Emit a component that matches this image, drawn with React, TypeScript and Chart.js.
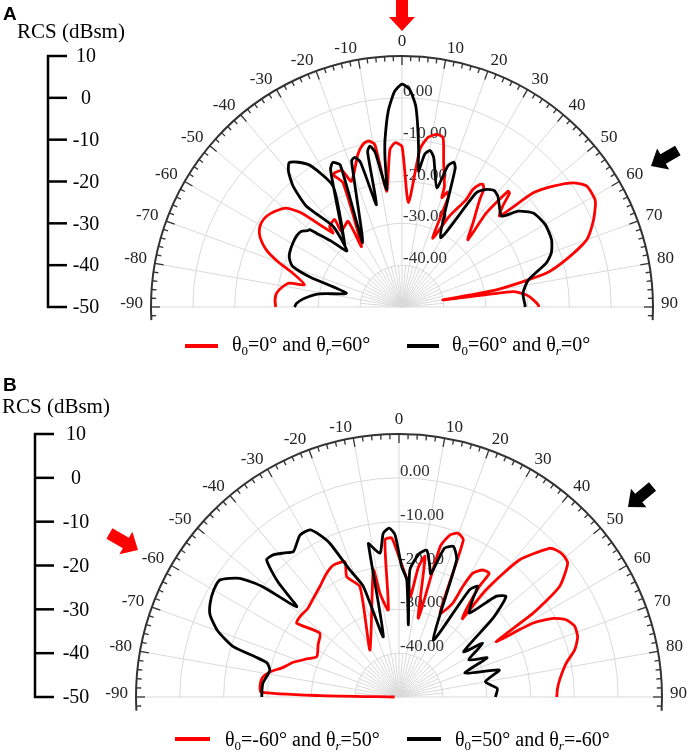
import React, { useEffect, useRef } from "react";
import { Chart, registerables } from "chart.js";
Chart.register(...registerables);

type P = [number, number];

const DB_MIN = -50;
const DB_MAX = 10;
const ringLevels = [0, -10, -20, -30, -40];
const ringLabels = ["0.00", "-10.00", "-20.00", "-30.00", "-40.00"];
const angleTicks = [-90, -80, -70, -60, -50, -40, -30, -20, -10, 0, 10, 20, 30, 40, 50, 60, 70, 80, 90];
const scaleTicks = [10, 0, -10, -20, -30, -40, -50];
const axisTitle = "RCS (dBsm)";

// Panel A: θ0=0°, θr=60° (red) — [angle°, dBsm]
const redA: P[] = [
  [-90, -19.8], [-87, -19.6], [-83.8, -19.8], [-80.5, -21], [-78, -22.5], [-77.2, -26.1], [-72.8, -22.7],
  [-70, -18.5], [-67.2, -14.8], [-64, -12.3], [-61.5, -11.2], [-59, -10.8], [-56.3, -11], [-53, -12],
  [-49.5, -13.6], [-47, -17], [-43, -25.8], [-41.9, -24.1], [-37.6, -23.6], [-38.7, -26.8], [-32.2, -25.8],
  [-33.8, -32.6], [-25.4, -17.1], [-27.5, -14.3], [-23.8, -14.3], [-21.9, -17.6], [-16.1, -12], [-13.5, -10],
  [-11.5, -9.5], [-9.5, -10.6], [-7.6, -22.1], [-4.4, -12.3], [-2.4, -10.7], [0, -11.6], [3.5, -25], [6.5, -12],
  [8.7, -9], [11.4, -7.9], [13.6, -8.3], [16, -13.9], [19.4, -19.5], [20, -22.2], [21.5, -20.5], [22.8, -21.5],
  [24, -32], [27.6, -25.5], [30.9, -20], [31.1, -17.2], [32.5, -15.2], [33.5, -14.9], [34.8, -15.8], [35.9, -18.3],
  [40, -23.5], [44.4, -27.5], [41.9, -19.8], [42.5, -12.5], [43.4, -12.6], [45, -16], [47, -18.1], [49, -8.4],
  [51.4, -3.7], [54.1, 0.6], [56.8, 2.8], [60.9, 2.8], [62.5, 2.1], [66, 0], [70, -3], [73.5, -8.5],
  [76.8, -14.5], [79.7, -27.1], [80.2, -40.1], [82.1, -23.2], [84.5, -20.1], [87, -18.5], [89.2, -17.4],
  [90, -17.3],
];
// Panel A: θ0=60°, θr=0° (black)
const blackA: P[] = [
  [-90, -24.3], [-88, -24.8], [-85, -26.5], [-81, -30], [-76, -36.3], [-72, -27], [-69.7, -22.2], [-67, -20.8],
  [-64.4, -20.2], [-60, -19.8], [-56, -19.6], [-53, -19.9], [-51, -21], [-50, -21.2], [-49.2, -23], [-47, -27],
  [-44.5, -31.2], [-40.5, -24.6], [-43.5, -16.8], [-42, -11.1], [-40, -7.8], [-38, -6.2], [-35.5, -7.5],
  [-32.8, -9.9], [-29.7, -16.8], [-42.6, -29.8], [-27.5, -13], [-25.6, -11.7], [-23.5, -13], [-31.4, -32],
  [-19, -13], [-17.5, -12.5], [-16, -14], [-14, -24.8], [-12.5, -12], [-11.3, -10.8], [-9.8, -12.5],
  [-7.5, -21.7], [-6.5, -14], [-5.8, -9.8], [-4, -3], [-2, 1.5], [0, 3.3], [2, 2], [3.8, -1.5], [4.8, -5.8],
  [6, -12], [6.9, -17.3], [8.5, -13], [10.2, -12], [12, -13.5], [16.3, -20.3], [18, -14.5], [19.7, -13.2],
  [21, -14.5], [29, -31], [33, -17.5], [35.7, -15.4], [38.2, -14.5], [40.9, -15], [44, -16.5], [47.6, -17.8],
  [50.5, -14], [54.4, -11.4], [60, -10.5], [65.8, -10.8], [70, -12], [73, -13.9], [77.9, -19.1], [83.5, -20.9],
  [89, -20.6], [90, -20.6],
];
// Panel B: θ0=-60°, θr=50° (red)
const redB: P[] = [
  [-90, -49], [-89, -32], [-88, -18.5], [-85, -18.2], [-82, -18.5], [-79, -20], [-76, -22.5], [-72, -24.5],
  [-68, -27], [-63.9, -29.1], [-57, -28], [-51.1, -26.8], [-54.2, -21.2], [-50.9, -20.9], [-46, -21],
  [-40, -20], [-35.6, -19], [-31, -17.5], [-26.5, -16.4], [-21.8, -16.8], [-23.5, -20.1], [-19.5, -23.3],
  [-31.7, -37.4], [-11.4, -20.4], [-10.4, -26], [-7, -30], [-5.1, -14], [-2.6, -13.7], [0.4, -18.7], [4.7, -24],
  [6.5, -27], [8.5, -20], [10.5, -17.4], [13.8, -31.5], [15.3, -14.5], [17.5, -11.2], [19.9, -10.3],
  [22.3, -11.3], [26.1, -28.7], [29.8, -25.4], [30, -20.9], [30.8, -17.1], [33.4, -15.3], [36.1, -15.1],
  [36, -18.9], [37.6, -25], [39, -27], [39.1, -18.5], [41.3, -8.4], [45.3, -1.8], [46.9, -0.9], [49, -0.5],
  [51.6, -0.9], [55.5, -5.6], [58, -14], [60.3, -24.5], [61.1, -15.2], [63, -10.5], [65.2, -8], [68, -6.8],
  [71.4, -7], [75, -8.5], [78.6, -11.1], [83.4, -13], [87, -13.8], [90, -14],
];
// Panel B: θ0=50°, θr=-60° (black)
const blackB: P[] = [
  [-90, -18.7], [-87, -18.7], [-84.1, -18.8], [-80.5, -19.6], [-78.2, -19.9], [-75.5, -18.9], [-74.4, -16],
  [-73.1, -10.5], [-70, -6], [-66.5, -3], [-63.6, -1.9], [-60, -1.2], [-56.8, -1.2], [-53.3, -4.7], [-51, -10],
  [-48.6, -18.9], [-46.5, -12], [-44, -6.5], [-41.5, -6.7], [-38.5, -8], [-36, -9], [-33.5, -7.8], [-31.4, -6.7],
  [-28, -6.8], [-26, -8.9], [-24.2, -11.6], [-21.1, -19], [-17.9, -23.5], [-14.6, -35.8], [-11.3, -14.3],
  [-10.5, -14.9], [-7.5, -16.9], [-5.5, -12.5], [-3.3, -11.4], [-1.4, -13], [1.2, -20.3], [3.8, -23.2],
  [7.4, -33.4], [4.9, -20.9], [8, -17], [10.7, -15.9], [13, -19], [14.5, -21], [17, -14.5], [19.9, -13.5],
  [22.8, -16.1], [31, -34.8], [33.3, -20.8], [35.4, -19], [37, -22], [40, -25], [44, -18], [46.8, -16.5],
  [50, -22], [55, -32], [57.3, -27.3], [62, -32], [66, -28], [70, -34], [74.9, -26.3], [80, -30], [85, -27.5],
  [90, -28],
];

const SERIF = '"Liberation Serif", "Times New Roman", "DejaVu Serif", serif';
const SANS = '"Liberation Sans", Arial, sans-serif';

function toXY(pts: P[]) {
  return pts.map(([a, db]) => {
    const r = Math.max(0, db - DB_MIN);
    const t = (a * Math.PI) / 180;
    return { x: r * Math.sin(t), y: r * Math.cos(t) };
  });
}

type Arrow = { tx: number; ty: number; dx: number; dy: number; color: string; len: number; hw: number; hl: number; sw: number };
type PanelCfg = {
  letter: string;
  letterY: number;
  titleX: number;
  titleY: number;
  barX: number;
  labelX: number;
  arrows: Arrow[];
};

function drawArrow(ctx: CanvasRenderingContext2D, a: Arrow) {
  const n = Math.hypot(a.dx, a.dy);
  const ux = a.dx / n, uy = a.dy / n;
  const px = -uy, py = ux;
  const bx = a.tx - ux * a.hl, by = a.ty - uy * a.hl;
  const tx0 = a.tx - ux * a.len, ty0 = a.ty - uy * a.len;
  ctx.beginPath();
  ctx.moveTo(tx0 + px * a.sw / 2, ty0 + py * a.sw / 2);
  ctx.lineTo(bx + px * a.sw / 2, by + py * a.sw / 2);
  ctx.lineTo(bx + px * a.hw / 2, by + py * a.hw / 2);
  ctx.lineTo(a.tx, a.ty);
  ctx.lineTo(bx - px * a.hw / 2, by - py * a.hw / 2);
  ctx.lineTo(bx - px * a.sw / 2, by - py * a.sw / 2);
  ctx.lineTo(tx0 - px * a.sw / 2, ty0 - py * a.sw / 2);
  ctx.closePath();
  ctx.fillStyle = a.color;
  ctx.fill();
}

function makeDecor(cfg: PanelCfg) {
  return {
    id: "polarDecor",
    beforeDatasetsDraw(chart: any) {
      const ctx: CanvasRenderingContext2D = chart.ctx;
      const xs = chart.scales.x, ys = chart.scales.y;
      const cx = xs.getPixelForValue(0);
      const cy = ys.getPixelForValue(0);
      const R = xs.getPixelForValue(DB_MAX - DB_MIN) - cx;
      const rOf = (db: number) => ((db - DB_MIN) / (DB_MAX - DB_MIN)) * R;
      const pt = (deg: number, r: number) => {
        const t = (deg * Math.PI) / 180;
        return [cx + r * Math.sin(t), cy - r * Math.cos(t)];
      };
      ctx.save();
      ctx.strokeStyle = "#d9d9d9";
      ctx.lineWidth = 1;
      const rIn = rOf(-40);
      for (let a = -90; a <= 90; a += 5) {
        if (a % 10 === 0) continue;
        const [x, y] = pt(a, rIn);
        ctx.beginPath();
        ctx.moveTo(cx, cy);
        ctx.lineTo(x, y);
        ctx.stroke();
      }
      for (let a = -90; a <= 90; a += 10) {
        const [x, y] = pt(a, R);
        ctx.beginPath();
        ctx.moveTo(cx, cy);
        ctx.lineTo(x, y);
        ctx.stroke();
      }
      ringLevels.forEach((lv) => {
        ctx.beginPath();
        ctx.arc(cx, cy, rOf(lv), Math.PI, 2 * Math.PI);
        ctx.stroke();
      });
      ctx.fillStyle = "#333";
      ctx.font = `17px ${SERIF}`;
      ctx.textAlign = "left";
      ctx.textBaseline = "alphabetic";
      ringLevels.forEach((lv, i) => {
        ctx.fillText(ringLabels[i], cx + 1, cy - rOf(lv) - 2);
      });
      ctx.strokeStyle = "#333";
      ctx.lineWidth = 2;
      ctx.beginPath();
      const ext = (3 * Math.PI) / 180;
      ctx.arc(cx, cy, R, Math.PI - ext, 2 * Math.PI + ext);
      ctx.stroke();
      ctx.lineWidth = 1.3;
      for (let a = -92; a <= 92; a += 2) {
        const len = a % 10 === 0 ? 9 : 5;
        const [x1, y1] = pt(a, R);
        const [x2, y2] = pt(a, R - len);
        ctx.beginPath();
        ctx.moveTo(x1, y1);
        ctx.lineTo(x2, y2);
        ctx.stroke();
      }
      ctx.fillStyle = "#222";
      ctx.font = `17px ${SERIF}`;
      ctx.textBaseline = "middle";
      angleTicks.forEach((a) => {
        const [x, y] = pt(a, R + 8);
        ctx.textAlign = a === 0 ? "center" : a > 0 ? "left" : "right";
        const yy = a === 0 ? y - 6 : y - 3;
        ctx.fillText(String(a), x, yy);
      });
      ctx.restore();
    },
    afterDraw(chart: any) {
      const ctx: CanvasRenderingContext2D = chart.ctx;
      const ys = chart.scales.y;
      const cy = ys.getPixelForValue(0);
      const top = ys.getPixelForValue(DB_MAX - DB_MIN);
      ctx.save();
      ctx.fillStyle = "#000";
      ctx.font = `bold 19px ${SANS}`;
      ctx.textAlign = "left";
      ctx.textBaseline = "alphabetic";
      ctx.fillText(cfg.letter, 3, cfg.letterY);
      ctx.font = `21px ${SERIF}`;
      ctx.fillText(axisTitle, cfg.titleX, cfg.titleY);
      ctx.strokeStyle = "#000";
      ctx.lineWidth = 2.5;
      ctx.beginPath();
      ctx.moveTo(cfg.barX, top - 1);
      ctx.lineTo(cfg.barX, cy + 1);
      ctx.stroke();
      ctx.font = `20px ${SERIF}`;
      ctx.textAlign = "center";
      ctx.textBaseline = "middle";
      scaleTicks.forEach((v) => {
        const y = top + ((DB_MAX - v) / (DB_MAX - DB_MIN)) * (cy - top);
        ctx.beginPath();
        ctx.moveTo(cfg.barX - 1, y);
        ctx.lineTo(cfg.barX + 19, y);
        ctx.stroke();
        ctx.fillText(String(v), cfg.labelX, y + 1);
      });
      cfg.arrows.forEach((a) => drawArrow(ctx, a));
      ctx.restore();
    },
  };
}

type PanelProps = {
  red: P[];
  black: P[];
  cfg: PanelCfg;
  padding: { left: number; right: number; top: number; bottom: number };
};

function Panel({ red, black, cfg, padding }: PanelProps) {
  const ref = useRef<HTMLCanvasElement | null>(null);
  useEffect(() => {
    if (!ref.current) return;
    const chart = new Chart(ref.current, {
      type: "scatter",
      data: {
        datasets: [
          {
            data: toXY(black),
            showLine: true,
            borderColor: "#000000",
            borderWidth: 2.8,
            pointRadius: 0,
            tension: 0.2,
            clip: false,
          } as any,
          {
            data: toXY(red),
            showLine: true,
            borderColor: "#ff0000",
            borderWidth: 2.8,
            pointRadius: 0,
            tension: 0.2,
            clip: false,
          } as any,
        ],
      },
      options: {
        animation: false,
        responsive: false,
        events: [],
        layout: { padding },
        plugins: { legend: { display: false }, tooltip: { enabled: false } },
        scales: {
          x: { type: "linear", min: -(DB_MAX - DB_MIN), max: DB_MAX - DB_MIN, display: false },
          y: { type: "linear", min: 0, max: DB_MAX - DB_MIN, display: false },
        },
      },
      plugins: [makeDecor(cfg)],
    });
    return () => chart.destroy();
  }, []);
  return <canvas ref={ref} width={692} height={376} style={{ display: "block", width: 692, height: 376 }} />;
}

const cfgA: PanelCfg = {
  letter: "A",
  letterY: 20,
  titleX: 17,
  titleY: 38,
  barX: 48,
  labelX: 86,
  arrows: [
    { tx: 402, ty: 31, dx: 0, dy: 1, color: "#ff0000", len: 31, hl: 14, hw: 26, sw: 12 },
    { tx: 651, ty: 166, dx: -0.866, dy: 0.5, color: "#000000", len: 31, hl: 14, hw: 24, sw: 11 },
  ],
};
const cfgB: PanelCfg = {
  letter: "B",
  letterY: 15,
  titleX: 2,
  titleY: 37,
  barX: 35,
  labelX: 76,
  arrows: [
    { tx: 138, ty: 174, dx: 0.866, dy: 0.5, color: "#ff0000", len: 33, hl: 14, hw: 26, sw: 12 },
    { tx: 628, ty: 131, dx: -0.766, dy: 0.643, color: "#000000", len: 32, hl: 14, hw: 24, sw: 11 },
  ],
};

const legendText: React.CSSProperties = {
  position: "absolute",
  fontFamily: SERIF,
  fontSize: 20,
  lineHeight: "24px",
  whiteSpace: "nowrap",
  color: "#000",
};
const subStyle: React.CSSProperties = { fontSize: 13, verticalAlign: "-4px", lineHeight: 0 };

function Sw({ left, top, width, color }: { left: number; top: number; width: number; color: string }) {
  return <div style={{ position: "absolute", left, top: top - 2, width, height: 4, background: color }} />;
}

export default function App() {
  return (
    <div style={{ position: "absolute", left: 0, top: 0, width: 692, height: 752, background: "#fff", overflow: "hidden" }}>
      <div style={{ position: "absolute", left: 0, top: 0 }}>
        <Panel red={redA} black={blackA} cfg={cfgA} padding={{ left: 151, right: 39, top: 56, bottom: 69 }} />
      </div>
      <div style={{ position: "absolute", left: 0, top: 376 }}>
        <Panel red={redB} black={blackB} cfg={cfgB} padding={{ left: 136, right: 30, top: 58, bottom: 55 }} />
      </div>
      <Sw left={185} top={346} width={33} color="#ff0000" />
      <div style={{ ...legendText, left: 232, top: 332 }}>
        θ<sub style={subStyle}>0</sub>=0° and θ<sub style={{ ...subStyle, fontStyle: "italic" }}>r</sub>=60°
      </div>
      <Sw left={407} top={346} width={32} color="#000000" />
      <div style={{ ...legendText, left: 452, top: 332 }}>
        θ<sub style={subStyle}>0</sub>=60° and θ<sub style={{ ...subStyle, fontStyle: "italic" }}>r</sub>=0°
      </div>
      <Sw left={175} top={739} width={35} color="#ff0000" />
      <div style={{ ...legendText, left: 225, top: 727 }}>
        θ<sub style={subStyle}>0</sub>=-60° and θ<sub style={{ ...subStyle, fontStyle: "italic" }}>r</sub>=50°
      </div>
      <Sw left={407} top={739} width={34} color="#000000" />
      <div style={{ ...legendText, left: 455, top: 727 }}>
        θ<sub style={subStyle}>0</sub>=50° and θ<sub style={{ ...subStyle, fontStyle: "italic" }}>r</sub>=-60°
      </div>
    </div>
  );
}
